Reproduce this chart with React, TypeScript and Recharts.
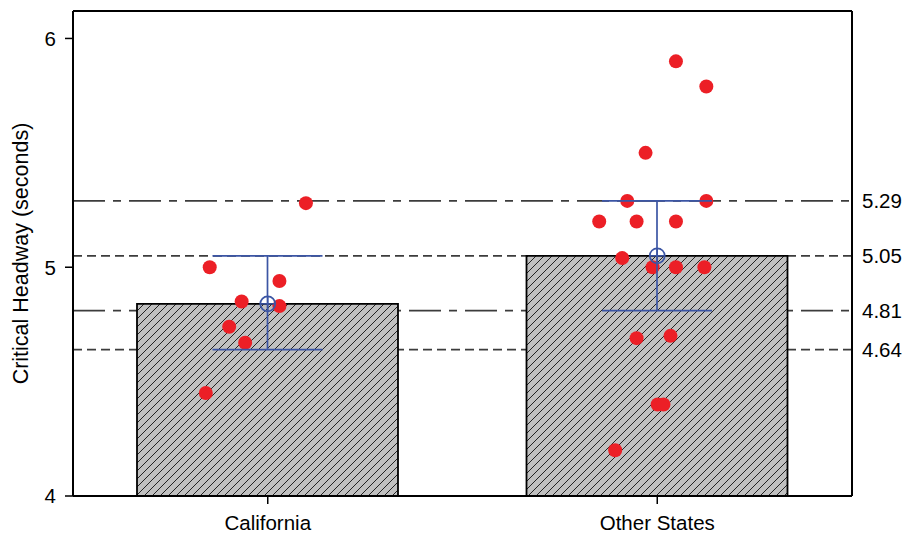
import React from "react"
import {
  ComposedChart,
  Bar,
  Line,
  Scatter,
  ErrorBar,
  XAxis,
  YAxis,
  ReferenceLine,
  Label,
} from "recharts"

// group means and confidence limits
const categories = ["California", "Other States"]
const means = [4.84, 5.05]
const ciLow = [4.64, 4.81]
const ciHigh = [5.05, 5.29]

// individual observations (x = jittered position inside the category, 0..2)
const caX = [0.598, 0.351, 0.53, 0.433, 0.53, 0.401, 0.442, 0.341]
const caY = [5.28, 5.0, 4.94, 4.85, 4.83, 4.74, 4.67, 4.45]
const otherX = [1.548, 1.626, 1.47, 1.423, 1.626, 1.351, 1.447, 1.548, 1.41, 1.488, 1.548, 1.621, 1.447, 1.534, 1.501, 1.516, 1.392]
const otherY = [5.9, 5.79, 5.5, 5.29, 5.29, 5.2, 5.2, 5.2, 5.04, 5.0, 5.0, 5.0, 4.69, 4.7, 4.4, 4.4, 4.2]

const leftTicks = [4, 5, 6]
const yDomain: [number, number] = [4, 6.12]

const rows = categories.map((name, i) => ({
  name,
  mean: means[i],
  err: [means[i] - ciLow[i], ciHigh[i] - means[i]],
}))

const points = [
  ...caX.map((x, i) => ({ x, y: caY[i] })),
  ...otherX.map((x, i) => ({ x, y: otherY[i] })),
]

const rightTicks = [...ciHigh, ...ciLow].sort((a, b) => b - a)

const FONT = "'Liberation Sans', Arial, sans-serif"
const BLUE = "#3b55a4"
const RED = "#ec1f26"
const LINE_GREY = "#3c3c3c"
const dashes = ["9 5", "32 8 8 8"]

function MeanMarker(props: any) {
  const { cx, cy, index } = props
  if (cx == null || cy == null) return <g key={index} />
  const r = 7.5
  return (
    <g key={`m-${index}`}>
      <circle cx={cx} cy={cy} r={r} fill="none" stroke={BLUE} strokeWidth={1.7} />
      <line x1={cx - r} x2={cx + r} y1={cy} y2={cy} stroke={BLUE} strokeWidth={1.5} />
      <line x1={cx} x2={cx} y1={cy - r} y2={cy + r} stroke={BLUE} strokeWidth={1.5} />
    </g>
  )
}

function RedDot(props: any) {
  const { cx, cy } = props
  return <circle cx={cx} cy={cy} r={7} fill={RED} />
}

export default function App() {
  const tickStyle = { fill: "#000", fontSize: 20.5, fontFamily: FONT }
  return (
    <div style={{ position: "absolute", left: 0, top: 0, background: "#fff" }}>
      <ComposedChart width={906} height={536} data={rows} margin={{ top: 11, right: 0, bottom: 0, left: 0 }}>
        <defs>
          <pattern id="hatch" patternUnits="userSpaceOnUse" width={8} height={8}>
            <rect width={8} height={8} fill="#c0c0c0" />
            <path d="M-2,2 l4,-4 M0,8 l8,-8 M6,10 l4,-4" stroke="#222" strokeWidth={1} />
          </pattern>
        </defs>
        <XAxis
          xAxisId="cat"
          dataKey="name"
          height={40}
          tick={tickStyle}
          tickSize={8}
          tickMargin={11}
          axisLine={{ stroke: "#000", strokeWidth: 2 }}
          tickLine={{ stroke: "#000", strokeWidth: 1.5 }}
        />
        <XAxis xAxisId="num" type="number" dataKey="x" domain={[0, 2]} allowDataOverflow hide />
        <YAxis
          yAxisId="left"
          type="number"
          domain={yDomain}
          ticks={leftTicks}
          width={73}
          tick={tickStyle}
          tickSize={8}
          tickMargin={9}
          axisLine={{ stroke: "#000", strokeWidth: 2 }}
          tickLine={{ stroke: "#000", strokeWidth: 1.5 }}
        >
          <Label
            value="Critical Headway (seconds)"
            angle={-90}
            position="center"
            dx={-16}
            style={{ fill: "#000", fontSize: 21.5, fontFamily: FONT }}
          />
        </YAxis>
        <YAxis
          yAxisId="right"
          orientation="right"
          type="number"
          domain={yDomain}
          ticks={rightTicks}
          interval={0}
          width={54}
          tick={{ ...tickStyle, textAnchor: "start" }}
          tickLine={false}
          tickSize={0}
          tickMargin={10}
          axisLine={{ stroke: "#000", strokeWidth: 2 }}
        />
        {categories.map((c, i) =>
          [ciHigh[i], ciLow[i]].map((v) => (
            <ReferenceLine
              key={`${c}-${v}`}
              xAxisId="cat"
              yAxisId="left"
              y={v}
              stroke={LINE_GREY}
              strokeWidth={1.7}
              strokeDasharray={dashes[i]}
              zIndex={100}
            />
          ))
        )}
        <ReferenceLine xAxisId="cat" yAxisId="left" y={yDomain[1]} stroke="#000" strokeWidth={2} />
        {/* keeps the right axis bound to a series so its ticks are drawn */}
        <Line
          xAxisId="cat"
          yAxisId="right"
          dataKey="mean"
          stroke="none"
          dot={false}
          activeDot={false}
          isAnimationActive={false}
        />
        <Bar
          xAxisId="cat"
          yAxisId="left"
          dataKey="mean"
          barSize={261}
          fill="url(#hatch)"
          stroke="#000"
          strokeWidth={1.8}
          isAnimationActive={false}
        >
          <ErrorBar dataKey="err" width={55} stroke={BLUE} strokeWidth={1.7} zIndex={700} />
        </Bar>
        <Scatter
          xAxisId="num"
          yAxisId="left"
          data={points}
          dataKey="y"
          shape={RedDot}
          isAnimationActive={false}
        />
        <Line
          xAxisId="cat"
          yAxisId="left"
          dataKey="mean"
          stroke="none"
          dot={MeanMarker}
          activeDot={false}
          isAnimationActive={false}
          zIndex={800}
        />
      </ComposedChart>
    </div>
  )
}
